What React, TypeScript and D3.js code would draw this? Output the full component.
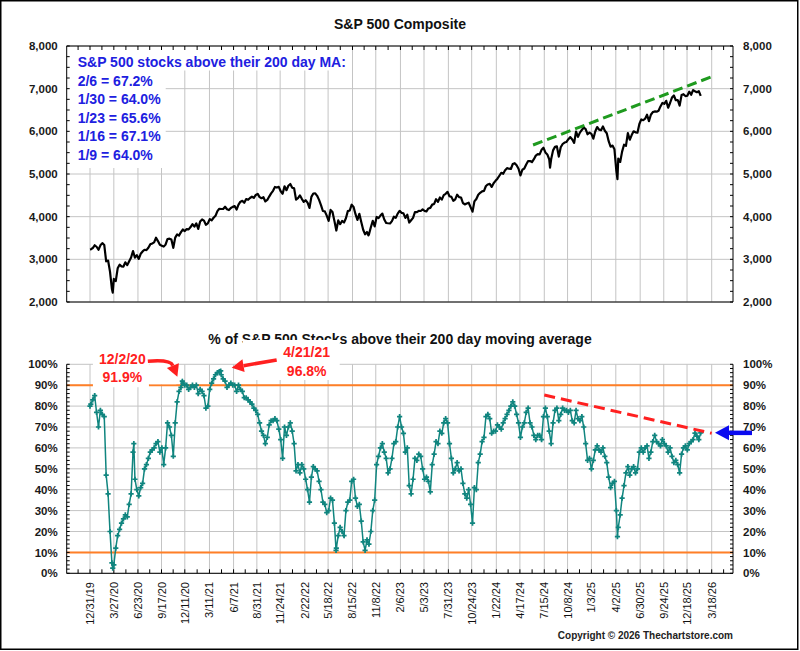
import { useEffect, useRef } from 'react'
import * as d3 from 'd3'

// x-axis labels (every ~60 trading days)
const tickLabels = [
  '12/31/19', '3/27/20', '6/23/20', '9/17/20', '12/11/20', '3/11/21', '6/7/21', '8/31/21',
  '11/24/21', '2/22/22', '5/18/22', '8/15/22', '11/8/22', '2/6/23', '5/3/23', '7/31/23',
  '10/24/23', '1/22/24', '4/17/24', '7/15/24', '10/8/24', '1/3/25', '4/2/25', '6/30/25',
  '9/24/25', '12/18/25', '3/18/26',
]

// S&P 500 weekly closes (12/31/19, then every Friday)
const spxStart = [3231]
const spx2020 = [3235, 3265, 3330, 3295, 3225, 3328, 3380, 3337, 2954, 2972, 2711, 2305, 2541,
  2489, 2790, 2875, 2837, 2831, 2930, 2864, 2955, 3044, 3194, 3041, 3098, 3009, 3130, 3185, 3225,
  3216, 3271, 3351, 3373, 3397, 3508, 3427, 3341, 3319, 3298, 3348, 3477, 3484, 3465, 3270, 3509,
  3585, 3557, 3638, 3699, 3663, 3709, 3703]
const spx2021 = [3756, 3824, 3768, 3841, 3714, 3887, 3934, 3907, 3811, 3842, 3943, 3913, 3975,
  4020, 4129, 4185, 4180, 4181, 4233, 4174, 4156, 4204, 4230, 4247, 4166, 4281, 4352, 4370, 4327,
  4412, 4395, 4437, 4468, 4442, 4509, 4535, 4459, 4433, 4455, 4357, 4391, 4471, 4545, 4605, 4697,
  4683, 4698, 4595, 4538, 4712, 4620, 4725, 4766]
const spx2022 = [4677, 4663, 4398, 4432, 4500, 4418, 4349, 4385, 4329, 4204, 4463, 4543, 4546,
  4488, 4393, 4272, 4132, 4123, 4024, 3901, 4158, 4109, 3901, 3675, 3912, 3825, 3899, 3863, 3962,
  4130, 4145, 4280, 4228, 4058, 3924, 4067, 3873, 3693, 3586, 3640, 3583, 3752, 3901, 3771, 3993,
  3965, 4026, 4072, 3934, 3852, 3845, 3840]
const spx2023 = [3895, 3999, 3973, 4071, 4136, 4090, 4079, 3970, 4046, 3862, 3917, 3971, 4109,
  4105, 4138, 4133, 4169, 4136, 4124, 4192, 4205, 4282, 4299, 4409, 4348, 4450, 4399, 4505, 4536,
  4582, 4478, 4464, 4370, 4406, 4515, 4457, 4450, 4320, 4288, 4308, 4327, 4224, 4117, 4358, 4415,
  4514, 4559, 4594, 4604, 4719, 4755, 4770]
const spx2024 = [4697, 4784, 4840, 4891, 4959, 5027, 5006, 5089, 5137, 5124, 5117, 5234, 5254,
  5204, 5123, 4967, 5100, 5128, 5223, 5303, 5305, 5278, 5347, 5431, 5465, 5460, 5567, 5615, 5505,
  5459, 5346, 5344, 5554, 5635, 5648, 5408, 5626, 5703, 5738, 5751, 5815, 5865, 5808, 5729, 5995,
  5870, 5969, 6032, 6090, 6051, 5931, 5971]
const spx2025 = [5942, 5827, 5997, 6101, 6041, 6026, 6115, 6013, 5955, 5770, 5639, 5667, 5581,
  5074, 5363, 5283, 5525, 5686, 5660, 5958, 5803, 5912, 6000, 5977, 5968, 6173, 6279, 6260, 6297,
  6389, 6238, 6389, 6450, 6467, 6460, 6482, 6584, 6664, 6644, 6716, 6553, 6664, 6792, 6840, 6729,
  6734, 6603, 6849, 6870, 6827, 6834, 6930]
const spx2026 = [6858, 6966, 6940, 6916, 6939, 6830]
// intra-week extremes visible on the chart
const spxSpikes: [string, number][] = [
  ['3/23/20', 2220], ['10/12/22', 3560], ['8/5/24', 5150], ['4/8/25', 4880],
]

// % of S&P 500 stocks above their 200 day MA (same weekly dates)
const pctStart = [80]
const pct2020 = [81, 83, 85, 77, 70, 78, 76, 75, 47, 38, 20, 5, 4, 12, 18, 21, 24, 26, 28, 27, 33,
  38, 58, 45, 40, 37, 41, 43, 50, 52, 55, 58, 59, 60, 62, 63, 58, 60, 52, 60, 72, 70, 66, 56, 72, 82,
  87, 89, 91, 90, 90, 88]
const pct2021 = [89, 90, 89, 90, 86, 88, 87, 85, 79, 80, 88, 91, 93, 95, 96, 96.5, 95, 93, 92, 89,
  90, 91, 90, 90, 87, 90, 88, 87, 84, 84, 83, 82, 81, 79, 78, 76, 72, 68, 66, 62, 65, 71, 73, 73, 74,
  73, 69, 64, 55, 70, 66, 70, 72]
const pct2022 = [68, 62, 49, 52, 48, 52, 50, 45, 40, 34, 46, 51, 50, 49, 44, 40, 34, 33, 29, 30, 36,
  35, 24, 12, 18, 22, 20, 18, 30, 34, 35, 44, 45, 36, 32, 33, 25, 15, 11, 16, 14, 20, 30, 35, 52, 56,
  60, 62, 58, 55, 48, 50]
const pct2023 = [55, 62, 63, 70, 75, 70, 67, 58, 60, 42, 38, 45, 55, 54, 57, 56, 50, 45, 46, 44, 39,
  52, 57, 63, 62, 68, 67, 72, 74, 72, 62, 55, 48, 50, 53, 49, 50, 43, 38, 36, 40, 33, 24, 41, 40, 53,
  57, 63, 65, 75, 76, 74]
const pct2024 = [67, 68, 68, 71, 70, 69, 72, 74, 76, 78, 80, 82, 80, 76, 72, 65, 70, 72, 77, 79, 72,
  70, 66, 64, 66, 66, 64, 75, 79, 75, 68, 62, 72, 78, 79, 73, 76, 79, 78, 78, 77, 78, 73, 72, 78, 74,
  73, 75, 70, 62, 54, 55]
const pct2025 = [50, 54, 59, 61, 59, 58, 60, 56, 53, 46, 41, 43, 44, 30, 22, 28, 36, 42, 48, 51, 47,
  50, 51, 48, 50, 58, 60, 58, 60, 61, 55, 58, 63, 66, 63, 62, 61, 64, 62, 61, 58, 60, 56, 53, 54, 52,
  48, 57, 60, 61, 59, 62]
const pct2026 = [63, 64.0, 67.1, 65.6, 64.0, 67.2]
const pctSpikes: [string, number][] = [
  ['3/23/20', 2.5], ['6/8/20', 62], ['12/2/20', 91.9], ['4/21/21', 96.8], ['6/16/22', 11], ['4/8/25', 17.5],
]

const noteLines = [
  'S&P 500 stocks above their 200 day MA:',
  '2/6 = 67.2%',
  '1/30 = 64.0%',
  '1/23 = 65.6%',
  '1/16 = 67.1%',
  '1/9 = 64.0%',
]
const callouts = [
  { date: '12/2/20', value: 91.9 },
  { date: '4/21/21', value: 96.8 },
]
const spxTrend: [string, number][] = [['6/4/24', 5680], ['3/18/26', 7280]]
const pctTrend: [string, number][] = [['7/15/24', 85.3], ['3/18/26', 67.0]]
const bands = [10, 90]
const latestPct = 67.2

const FONT = "'Liberation Sans', Arial, Helvetica, sans-serif"
const GRID = '#c4c4c4'
const TEAL = '#10857f'
const RED = '#ff2020'
const ORANGE = '#ff7f27'
const BLUE_TXT = '#2020e0'

export default function App() {
  const ref = useRef<SVGSVGElement>(null)

  useEffect(() => {
    if (!ref.current) return
    const svg = d3.select(ref.current)
    svg.selectAll('*').remove()

    const parse = d3.timeParse('%m/%d/%y')
    const L = 66.7
    const R = 733
    const t1 = 46
    const b1 = 302
    const t2 = 364.3
    const b2 = 573.3

    const labelDates = tickLabels.map((s) => parse(s)!)
    const x = d3
      .scaleTime()
      .domain([labelDates[0], labelDates[labelDates.length - 1]])
      .range([90, 711.7])
    const ySpx = d3.scaleLinear().domain([2000, 8000]).range([b1, t1])
    const yPct = d3.scaleLinear().domain([0, 100]).range([b2, t2])

    // weekly dates
    const weekDates = [new Date(2019, 11, 31), ...d3.timeFriday.range(new Date(2020, 0, 3), new Date(2026, 1, 7))]
    const build = (vals: number[], spikes: [string, number][]) => {
      const pts = weekDates
        .map((d, i) => ({ d, v: vals[i] }))
        .filter((p) => p.v != null)
      spikes.forEach(([s, v]) => pts.push({ d: parse(s)!, v }))
      return pts.sort((a, b) => +a.d - +b.d)
    }
    const spx = build(
      [...spxStart, ...spx2020, ...spx2021, ...spx2022, ...spx2023, ...spx2024, ...spx2025, ...spx2026],
      spxSpikes
    )
    const pct = build(
      [...pctStart, ...pct2020, ...pct2021, ...pct2022, ...pct2023, ...pct2024, ...pct2025, ...pct2026],
      pctSpikes
    )

    // half-interval tick dates
    const halfTicks: Date[] = []
    const step = (+labelDates[1] - +labelDates[0]) / 2
    halfTicks.push(new Date(+labelDates[0] - step))
    labelDates.forEach((d, i) => {
      halfTicks.push(d)
      const next = labelDates[i + 1]
      halfTicks.push(next ? new Date((+d + +next) / 2) : new Date(+d + step))
    })

    // ── frame ─────────────────────────────────────────────────────────
    svg
      .append('rect')
      .attr('x', 0.75)
      .attr('y', 0.75)
      .attr('width', 797)
      .attr('height', 648.5)
      .attr('fill', '#fff')
      .attr('stroke', '#000')
      .attr('stroke-width', 1.5)

    // ── titles ────────────────────────────────────────────────────────
    const title = (txt: string, y: number) =>
      svg
        .append('text')
        .attr('x', 400)
        .attr('y', y)
        .attr('text-anchor', 'middle')
        .style('font-family', FONT)
        .style('font-size', '14px')
        .style('font-weight', '700')
        .style('fill', '#111')
        .text(txt)
    title('S&P 500 Composite', 29)
    title('% of S&P 500 Stocks above their 200 day moving average', 344)

    // ── gridlines ─────────────────────────────────────────────────────
    const panels = [
      { top: t1, bot: b1, y: ySpx, major: d3.range(2000, 8001, 1000), minor: d3.range(2000, 8001, 250) },
      { top: t2, bot: b2, y: yPct, major: d3.range(0, 101, 10), minor: d3.range(0, 101, 2) },
    ]
    panels.forEach((p) => {
      p.major.forEach((v) => {
        svg
          .append('line')
          .attr('x1', L)
          .attr('x2', R)
          .attr('y1', p.y(v))
          .attr('y2', p.y(v))
          .attr('stroke', GRID)
          .attr('stroke-width', 1)
      })
      labelDates.forEach((d) => {
        svg
          .append('line')
          .attr('x1', x(d))
          .attr('x2', x(d))
          .attr('y1', p.top)
          .attr('y2', p.bot)
          .attr('stroke', GRID)
          .attr('stroke-width', 1)
      })
    })

    // orange bands
    bands.forEach((b) => {
      svg
        .append('line')
        .attr('x1', L)
        .attr('x2', R)
        .attr('y1', yPct(b))
        .attr('y2', yPct(b))
        .attr('stroke', ORANGE)
        .attr('stroke-width', 2)
    })

    // ── white label boxes (hide grid behind text) ─────────────────────
    const box = (bx: number, by: number, bw: number, bh: number) =>
      svg.append('rect').attr('x', bx).attr('y', by).attr('width', bw).attr('height', bh).attr('fill', '#fff')
    box(L + 1, t1 + 1, 283, 23.5)
    box(L + 1, t1 + 24, 98, 98)

    const c1 = { x: x(parse(callouts[0].date)!), y: yPct(callouts[0].value) }
    const c2 = { x: x(parse(callouts[1].date)!), y: yPct(callouts[1].value) }
    box(c1.x - 89.4, c1.y - 36, 56, 42)
    box(c1.x - 33, c1.y - 18, 27, 21)
    box(c2.x + 22, c2.y - 31, 97, 40)

    // ── axes ──────────────────────────────────────────────────────────
    panels.forEach((p, idx) => {
      const g = svg.append('g').attr('stroke', '#000').attr('stroke-width', 1)
      g.append('line').attr('x1', L).attr('x2', L).attr('y1', p.top).attr('y2', p.bot)
      g.append('line').attr('x1', R).attr('x2', R).attr('y1', p.top).attr('y2', p.bot)
      g.append('line').attr('x1', L).attr('x2', R).attr('y1', p.bot).attr('y2', p.bot)
      if (idx === 0) g.append('line').attr('x1', L).attr('x2', R).attr('y1', p.top).attr('y2', p.top)
      p.minor.forEach((v) => {
        g.append('line').attr('x1', L).attr('x2', L + 3).attr('y1', p.y(v)).attr('y2', p.y(v))
        g.append('line').attr('x1', R - 3).attr('x2', R).attr('y1', p.y(v)).attr('y2', p.y(v))
      })
      halfTicks.forEach((d) => {
        const tx = x(d)
        if (tx <= L || tx >= R) return
        if (idx === 0) g.append('line').attr('x1', tx).attr('x2', tx).attr('y1', p.top).attr('y2', p.top + 4)
        else g.append('line').attr('x1', tx).attr('x2', tx).attr('y1', p.bot).attr('y2', p.bot - 4)
      })
      const fmt = idx === 0 ? d3.format(',') : (v: number) => `${v}%`
      p.major.forEach((v) => {
        ;[
          { tx: L - 9, anchor: 'end' },
          { tx: R + 10, anchor: 'start' },
        ].forEach((s) => {
          svg
            .append('text')
            .attr('x', s.tx)
            .attr('y', p.y(v))
            .attr('dy', '0.36em')
            .attr('text-anchor', s.anchor)
            .style('font-family', FONT)
            .style('font-size', '11.5px')
            .style('font-weight', '700')
            .style('fill', '#1a1a1a')
            .text(fmt(v))
        })
      })
    })

    // x labels
    tickLabels.forEach((s, i) => {
      const tx = x(labelDates[i]) + 4
      svg
        .append('text')
        .attr('transform', `translate(${tx},582) rotate(-90)`)
        .attr('text-anchor', 'end')
        .style('font-family', FONT)
        .style('font-size', '11px')
        .style('fill', '#111')
        .text(s)
    })

    // ── S&P 500 line ──────────────────────────────────────────────────
    const spxLine = d3
      .line<{ d: Date; v: number }>()
      .x((p) => x(p.d))
      .y((p) => ySpx(p.v))
    svg
      .append('path')
      .attr('d', spxLine(spx))
      .attr('fill', 'none')
      .attr('stroke', '#000')
      .attr('stroke-width', 2.2)
      .attr('stroke-linejoin', 'round')

    // green trend
    svg
      .append('line')
      .attr('x1', x(parse(spxTrend[0][0])!))
      .attr('y1', ySpx(spxTrend[0][1]))
      .attr('x2', x(parse(spxTrend[1][0])!))
      .attr('y2', ySpx(spxTrend[1][1]))
      .attr('stroke', '#1f9a1f')
      .attr('stroke-width', 3)
      .attr('stroke-dasharray', '10,5')

    // ── % above 200 DMA ───────────────────────────────────────────────
    const pctLine = d3
      .line<{ d: Date; v: number }>()
      .x((p) => x(p.d))
      .y((p) => yPct(p.v))
    svg
      .append('path')
      .attr('d', pctLine(pct))
      .attr('fill', 'none')
      .attr('stroke', TEAL)
      .attr('stroke-width', 1.5)
    const cross = d3.symbol(d3.symbolCross, 15)
    svg
      .append('g')
      .selectAll('path')
      .data(pct)
      .join('path')
      .attr('transform', (p) => `translate(${x(p.d)},${yPct(p.v)})`)
      .attr('d', cross() as string)
      .attr('fill', TEAL)

    // red trend
    svg
      .append('line')
      .attr('x1', x(parse(pctTrend[0][0])!))
      .attr('y1', yPct(pctTrend[0][1]))
      .attr('x2', x(parse(pctTrend[1][0])!))
      .attr('y2', yPct(pctTrend[1][1]))
      .attr('stroke', RED)
      .attr('stroke-width', 3)
      .attr('stroke-dasharray', '11,6')

    // ── note text (top panel) ─────────────────────────────────────────
    noteLines.forEach((s, i) => {
      svg
        .append('text')
        .attr('x', 77.7)
        .attr('y', 67 + i * 18.6)
        .style('font-family', FONT)
        .style('font-size', '14px')
        .style('font-weight', '700')
        .style('fill', BLUE_TXT)
        .text(s)
    })

    // ── callouts ──────────────────────────────────────────────────────
    const redText = (txt: string, tx: number, ty: number) =>
      svg
        .append('text')
        .attr('x', tx)
        .attr('y', ty)
        .attr('text-anchor', 'middle')
        .style('font-family', FONT)
        .style('font-size', '14px')
        .style('font-weight', '700')
        .style('fill', RED)
        .text(txt)
    redText(callouts[0].date, c1.x - 60, c1.y - 17)
    redText(`${callouts[0].value}%`, c1.x - 60, c1.y + 1)
    redText(callouts[1].date, c2.x + 86, c2.y - 14)
    redText(`${callouts[1].value}%`, c2.x + 86, c2.y + 5)

    const head = (tip: [number, number], from: [number, number], len: number, half: number, color: string) => {
      const dx = tip[0] - from[0]
      const dy = tip[1] - from[1]
      const n = Math.hypot(dx, dy)
      const ux = dx / n
      const uy = dy / n
      const bx = tip[0] - ux * len
      const by = tip[1] - uy * len
      svg
        .append('path')
        .attr('d', `M${tip[0]},${tip[1]}L${bx - uy * half},${by + ux * half}L${bx + uy * half},${by - ux * half}Z`)
        .attr('fill', color)
      return [bx, by]
    }

    // arrow 1 (curved)
    {
      const tip: [number, number] = [c1.x - 5, c1.y - 4.5]
      const ctrl: [number, number] = [c1.x - 12, c1.y - 22]
      const [bx, by] = head(tip, ctrl, 12, 6.5, RED)
      svg
        .append('path')
        .attr('d', `M${c1.x - 34.5},${c1.y - 20}Q${ctrl[0]},${ctrl[1]} ${bx},${by}`)
        .attr('fill', 'none')
        .attr('stroke', RED)
        .attr('stroke-width', 3.5)
    }
    // arrow 2 (straight)
    {
      const tip: [number, number] = [c2.x + 11, c2.y - 3.3]
      const from: [number, number] = [c2.x + 56, c2.y - 11]
      const [bx, by] = head(tip, from, 12, 6.5, RED)
      svg
        .append('line')
        .attr('x1', from[0])
        .attr('y1', from[1])
        .attr('x2', bx)
        .attr('y2', by)
        .attr('stroke', RED)
        .attr('stroke-width', 3.5)
    }

    // blue arrow at latest reading
    {
      const ax = x(labelDates[labelDates.length - 1]) + 3.3
      const ay = yPct(latestPct)
      const [bx] = head([ax, ay], [ax + 20, ay], 14, 7.5, '#0a0af0')
      svg
        .append('line')
        .attr('x1', bx - 0.5)
        .attr('x2', ax + 37)
        .attr('y1', ay)
        .attr('y2', ay)
        .attr('stroke', '#0a0af0')
        .attr('stroke-width', 4.5)
    }

    // copyright
    svg
      .append('text')
      .attr('x', R)
      .attr('y', 639)
      .attr('text-anchor', 'end')
      .style('font-family', FONT)
      .style('font-size', '10px')
      .style('font-weight', '700')
      .style('fill', '#222')
      .text('Copyright \u00A9 2026 Thechartstore.com')
  }, [])

  return (
    <>
      <style>{'body{margin:0}'}</style>
      <svg ref={ref} width={800} height={651} style={{ display: 'block' }} />
    </>
  )
}
